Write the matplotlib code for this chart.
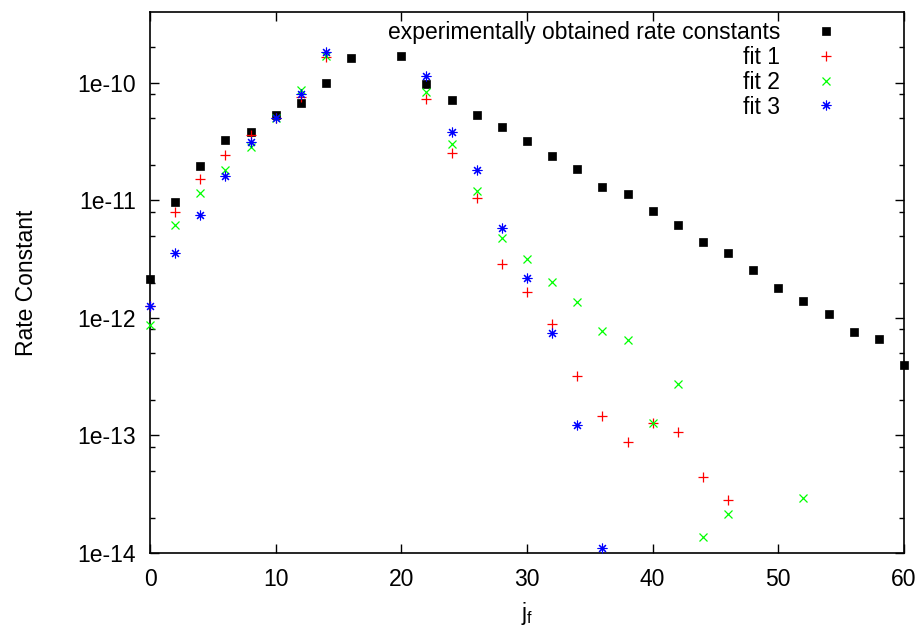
import matplotlib
matplotlib.use("Agg")
import matplotlib.pyplot as plt
import numpy as np
from matplotlib.ticker import LogLocator, FixedLocator, FuncFormatter, NullFormatter

plt.rcParams['font.family'] = ['Liberation Sans', 'DejaVu Sans']
plt.rcParams['mathtext.fontset'] = 'custom'
plt.rcParams['mathtext.rm'] = 'Liberation Sans'
plt.rcParams['mathtext.it'] = 'Liberation Sans'

# ---- data ----
exp_j = [0, 2, 4, 6, 8, 10, 12, 14, 16, 20, 22, 24, 26, 28, 30, 32, 34, 36, 38,
         40, 42, 44, 46, 48, 50, 52, 54, 56, 58, 60]
exp_k = [2.13e-12, 9.75e-12, 1.97e-11, 3.25e-11, 3.85e-11, 5.3e-11, 6.77e-11, 9.94e-11,
         1.64e-10, 1.69e-10, 9.7e-11, 7.2e-11, 5.3e-11, 4.19e-11, 3.19e-11, 2.38e-11,
         1.85e-11, 1.30e-11, 1.14e-11, 8.13e-12, 6.19e-12, 4.44e-12, 3.58e-12, 2.57e-12,
         1.81e-12, 1.40e-12, 1.07e-12, 7.52e-13, 6.56e-13, 3.95e-13]

fit1_j = [0, 2, 4, 6, 8, 10, 12, 14, 22, 24, 26, 28, 30, 32, 34, 36, 38, 40, 42, 44, 46]
fit1_k = [1.25e-12, 7.9e-12, 1.53e-11, 2.42e-11, 3.6e-11, 4.99e-11, 7.6e-11, 1.66e-10,
          7.23e-11, 2.52e-11, 1.05e-11, 2.87e-12, 1.65e-12, 8.9e-13, 3.19e-13, 1.47e-13,
          8.72e-14, 1.27e-13, 1.06e-13, 4.4e-14, 2.8e-14]

fit2_j = [0, 2, 4, 6, 8, 10, 12, 14, 22, 24, 26, 28, 30, 32, 34, 36, 38, 40, 42, 44, 46, 52]
fit2_k = [8.67e-13, 6.22e-12, 1.15e-11, 1.82e-11, 2.87e-11, 5.0e-11, 8.68e-11, 1.69e-10,
          8.3e-11, 3.04e-11, 1.19e-11, 4.8e-12, 3.14e-12, 2.03e-12, 1.36e-12, 7.67e-13,
          6.43e-13, 1.28e-13, 2.72e-13, 1.36e-14, 2.14e-14, 2.92e-14]

fit3_j = [0, 2, 4, 6, 8, 10, 12, 14, 22, 24, 26, 28, 30, 32, 34, 36]
fit3_k = [1.26e-12, 3.58e-12, 7.57e-12, 1.60e-11, 3.16e-11, 5.0e-11, 7.97e-11, 1.81e-10,
          1.14e-10, 3.85e-11, 1.82e-11, 5.83e-12, 2.18e-12, 7.41e-13, 1.23e-13, 1.11e-14]

labels = ["experimentally obtained rate constants", "fit 1", "fit 2", "fit 3"]
x_ticks = [0, 10, 20, 30, 40, 50, 60]
y_ticks = [1e-14, 1e-13, 1e-12, 1e-11, 1e-10]
y_tick_labels = ["1e-14", "1e-13", "1e-12", "1e-11", "1e-10"]

# ---- figure ----
fig = plt.figure(figsize=(9.22, 6.28), dpi=100)
ax = fig.add_axes([150 / 922, 1 - 553 / 628, 754 / 922, 541 / 628])

fs = 16.5
ax.plot(exp_j, exp_k, linestyle='none', marker='s', ms=6.0, mew=0.5,
        color='black', label=labels[0], clip_on=False, zorder=2)
ax.plot(fit1_j, fit1_k, linestyle='none', marker='+', ms=7, mew=0.9,
        color='#ff0000', label=labels[1], clip_on=False, zorder=3)
ax.plot(fit2_j, fit2_k, linestyle='none', marker='x', ms=6, mew=0.9,
        color='#00ff00', label=labels[2], clip_on=False, zorder=3)
ax.plot(fit3_j, fit3_k, linestyle='none', marker=(8, 2, 0), ms=7, mew=0.8,
        color='#0000ff', label=labels[3], clip_on=False, zorder=4)

ax.set_yscale('log')
ax.set_xlim(0, 60)
ax.set_ylim(1e-14, 4e-10)

ax.xaxis.set_major_locator(FixedLocator(x_ticks))
ax.set_xticklabels([str(t) for t in x_ticks])
ax.yaxis.set_major_locator(FixedLocator(y_ticks))
ax.set_yticklabels(y_tick_labels)
ax.yaxis.set_minor_locator(LogLocator(base=10, subs=(2.0, 5.0, 8.0)))
ax.yaxis.set_minor_formatter(NullFormatter())

ax.tick_params(which='both', direction='in', top=True, right=True, width=1.0)
ax.tick_params(which='major', length=6.5)
ax.tick_params(which='minor', length=3.6)
ax.tick_params(axis='x', which='major', labelsize=fs, pad=10.5)
ax.tick_params(axis='y', which='major', labelsize=fs, pad=10)
ax.tick_params(axis='x', which='minor', top=False, bottom=False)
for s in ax.spines.values():
    s.set_linewidth(1.2)

ax.set_xlabel(r'j$_\mathrm{f}$', fontsize=fs, labelpad=7)
ax.set_ylabel('Rate Constant', fontsize=fs, labelpad=28.5)

leg = ax.legend(loc='upper right', bbox_to_anchor=((848.5 - 150) / 754, 1 - 9 / 541),
                frameon=False, markerfirst=False, fontsize=fs, borderpad=0,
                borderaxespad=0, handlelength=2.0, handletextpad=0.98,
                labelspacing=0.08)

fig.savefig('out.png', dpi=100)
